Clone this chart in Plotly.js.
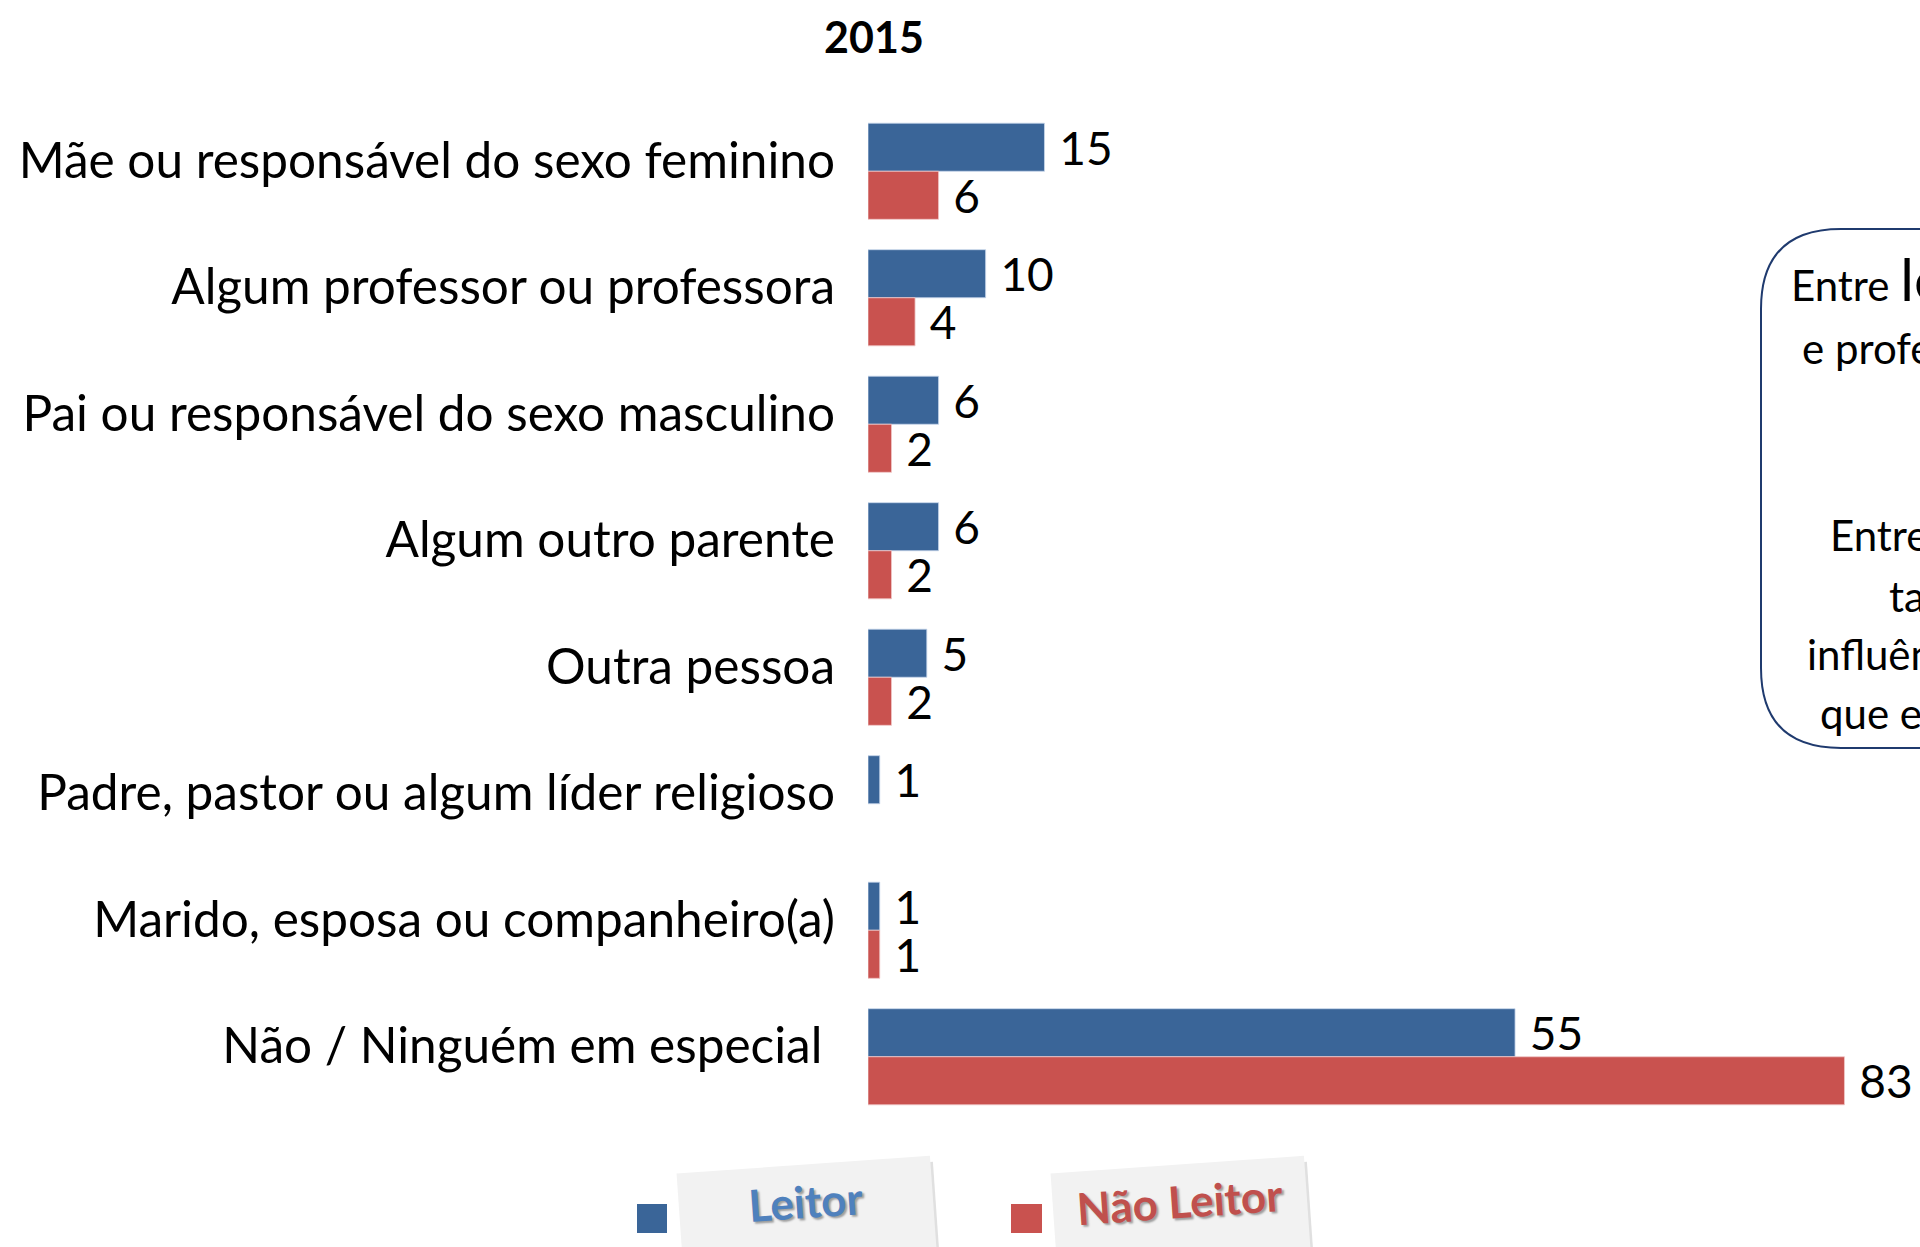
<!DOCTYPE html>
<html>
<head>
<meta charset="utf-8">
<script src="https://cdn.plot.ly/plotly-3.0.1.min.js"></script>
<style>html,body{margin:0;padding:0;background:#fff;}#chart{width:1920px;height:1247px;}</style>
</head>
<body>
<div id="chart"></div>
<script>
// ---- data ----
const categories = [
  "Mãe ou responsável do sexo feminino",
  "Algum professor ou professora",
  "Pai ou responsável do sexo masculino",
  "Algum outro parente",
  "Outra pessoa",
  "Padre, pastor ou algum líder religioso",
  "Marido, esposa ou companheiro(a)",
  "Não / Ninguém em especial\u00a0"
];
const leitor    = [15, 10, 6, 6, 5, 1, 1, 55];
const naoLeitor = [6, 4, 2, 2, 2, null, 1, 83];
const seriesNames = ["Leitor", "Não Leitor"];
const chartTitle = "2015";
const boxLines = [
  "Entre <span style='font-size:58px'>leitores</span>, a mãe",
  "e professores são os",
  "Entre não leitores,",
  "também a mãe",
  "influência maior,",
  "que estes"
];

// ---- layout helpers ----
const W = 1920, H = 1247;
const M = {l: 868, r: 52, t: 108, b: 127};
const pw = W - M.l - M.r, ph = H - M.t - M.b;
const PX = x => (x - M.l) / pw;
const PY = y => (H - M.b - y) / ph;

const FONT = "Lato, 'Open Sans', sans-serif";
const BLUE = "#3a6598", RED = "#c9524f";
const lab = arr => arr.map(v => (v === null || v === undefined) ? "" : "\u00a0" + v);

const traces = [
  {
    type: "bar", orientation: "h", name: seriesNames[0],
    y: categories, x: leitor, text: lab(leitor),
    textposition: "outside", cliponaxis: false, constraintext: "none",
    textfont: {family: FONT, size: 46, color: "#000"},
    marker: {color: BLUE, line: {color: "rgba(200,215,235,0.8)", width: 1}},
    hoverinfo: "skip"
  },
  {
    type: "bar", orientation: "h", name: seriesNames[1],
    y: categories, x: naoLeitor, text: lab(naoLeitor),
    textposition: "outside", cliponaxis: false, constraintext: "none",
    textfont: {family: FONT, size: 46, color: "#000"},
    marker: {color: RED, line: {color: "rgba(240,200,200,0.8)", width: 1}},
    hoverinfo: "skip"
  }
];

// rounded box (partly off-page)
const bx0 = 1761, by0 = 229, by1 = 748, bx1 = 2100, r = 80;
const boxPath = `M ${PX(bx0)},${PY(by0 + r)} Q ${PX(bx0)},${PY(by0)} ${PX(bx0 + r)},${PY(by0)} L ${PX(bx1)},${PY(by0)} L ${PX(bx1)},${PY(by1)} L ${PX(bx0 + r)},${PY(by1)} Q ${PX(bx0)},${PY(by1)} ${PX(bx0)},${PY(by1 - r)} Z`;

const shapes = [
  {type: "path", xref: "paper", yref: "paper", path: boxPath,
   line: {color: "#1f3a6e", width: 2}, fillcolor: "#fff", layer: "below"},
  // legend swatches
  {type: "rect", xref: "paper", yref: "paper", x0: PX(637), x1: PX(667), y0: PY(1233), y1: PY(1204),
   fillcolor: BLUE, line: {width: 0}},
  {type: "rect", xref: "paper", yref: "paper", x0: PX(1011), x1: PX(1042), y0: PY(1233), y1: PY(1204),
   fillcolor: RED, line: {width: 0}}
];

const boxPos = [[1789, 278], [1800, 348], [1828, 535], [1887, 596], [1805, 654], [1818, 713]];
const annotations = boxLines.map((t, i) => ({
  xref: "paper", yref: "paper", x: PX(boxPos[i][0]), y: PY(boxPos[i][1]),
  xanchor: "left", yanchor: "middle", showarrow: false, align: "left",
  text: t, font: {family: FONT, size: 42, color: "#000"}
}));

function card(cx, cy, label, color) {
  const common = {xref: "paper", yref: "paper", showarrow: false, textangle: -4,
    width: 233, height: 130, valign: "top", borderpad: 10, xanchor: "center", yanchor: "middle"};
  return [
    Object.assign({}, common, {x: PX(cx + 3), y: PY(cy + 6), text: "<b>" + label + "</b>",
      bgcolor: "rgba(0,0,0,0.12)", font: {family: FONT, size: 44, color: "rgba(0,0,0,0)"}}),
    Object.assign({}, common, {x: PX(cx), y: PY(cy), text: "<b>" + label + "</b>",
      bgcolor: "#f2f2f2", font: {family: FONT, size: 44, color: color, shadow: "2px 2px 2px rgba(0,0,0,0.35)"}})
  ];
}
annotations.push(...card(808, 1240, seriesNames[0], "#4f81bd"));
annotations.push(...card(1182, 1240, seriesNames[1], "#c0504d"));

const layout = {
  width: W, height: H,
  margin: M,
  paper_bgcolor: "#fff", plot_bgcolor: "#fff",
  showlegend: false,
  barmode: "group", bargap: 0.24, bargroupgap: 0,
  title: {text: "<b>" + chartTitle + "</b>", x: 874 / W, xanchor: "center", xref: "container",
          y: 1 - 38 / H, yanchor: "middle", yref: "container",
          font: {family: FONT, size: 43, color: "#000"}},
  xaxis: {range: [0, 85], visible: false, showgrid: false, zeroline: false, fixedrange: true},
  yaxis: {autorange: "reversed", showgrid: false, zeroline: false, showline: false,
          ticks: "", ticklabelstandoff: 32, ticklabelshift: 11,
          tickfont: {family: FONT, size: 49.5, color: "#000"}, fixedrange: true},
  shapes: shapes,
  annotations: annotations
};

Plotly.newPlot("chart", traces, layout, {displayModeBar: false, staticPlot: true});
</script>
</body>
</html>
